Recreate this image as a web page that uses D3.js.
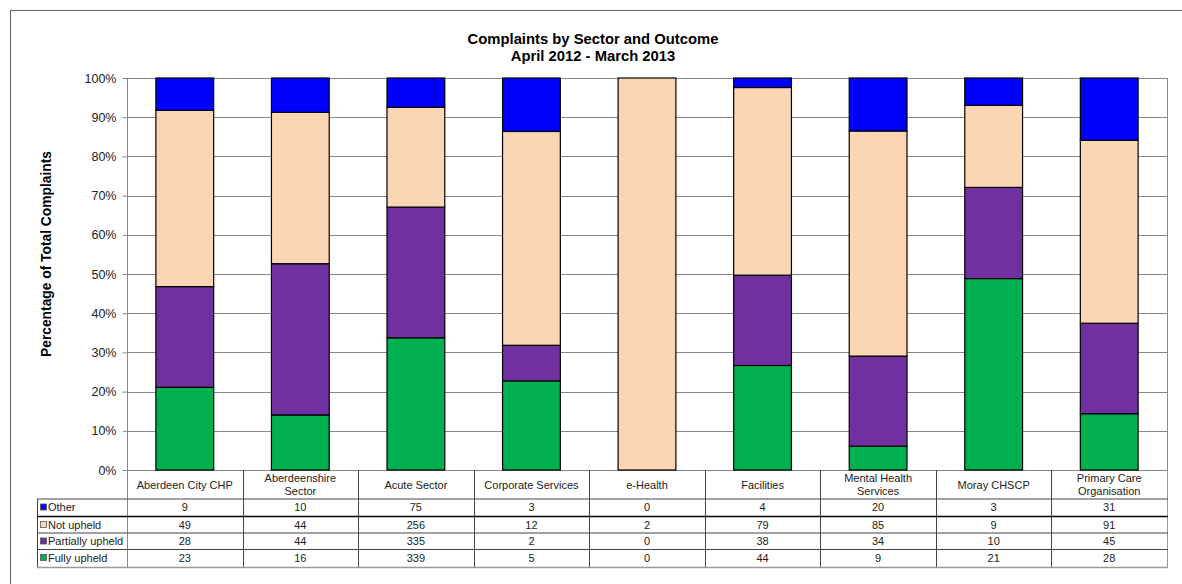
<!DOCTYPE html>
<html><head><meta charset="utf-8">
<script src="https://cdn.jsdelivr.net/npm/d3@7"></script>
<style>body{margin:0;background:#fff}svg{display:block;font-family:"Liberation Sans",Arial,sans-serif}</style>
</head><body><svg id="c" width="1182" height="584"></svg>
<script>
const categories = ["Aberdeen City CHP","Aberdeenshire Sector","Acute Sector","Corporate Services","e-Health","Facilities","Mental Health Services","Moray CHSCP","Primary Care Organisation"];
const categoryLines = [["Aberdeen City CHP"],["Aberdeenshire","Sector"],["Acute Sector"],["Corporate Services"],["e-Health"],["Facilities"],["Mental Health","Services"],["Moray CHSCP"],["Primary Care","Organisation"]];
const other = [9,10,75,3,0,4,20,3,31];
const notUpheld = [49,44,256,12,2,79,85,9,91];
const partiallyUpheld = [28,44,335,2,0,38,34,10,45];
const fullyUpheld = [23,16,339,5,0,44,9,21,28];
const seriesNames = ["Fully upheld","Partially upheld","Not upheld","Other"];
const seriesColors = ["#00B050","#7030A0","#FCD5B5","#0000FF"];
const yTicks = [0,0.1,0.2,0.3,0.4,0.5,0.6,0.7,0.8,0.9,1];

const seriesValues = [fullyUpheld, partiallyUpheld, notUpheld, other];
const rows = categories.map((c,i)=>{const o={cat:c}; seriesNames.forEach((s,j)=>o[s]=seriesValues[j][i]); return o;});
const stack = d3.stack().keys(seriesNames).offset(d3.stackOffsetExpand)(rows);

const svg = d3.select("#c");
const L=127, R=1167, T=78, B=470;
const x = d3.scaleBand().domain(categories).range([L,R]).paddingInner(0.5).paddingOuter(0.25);
const y = d3.scaleLinear().domain([0,1]).range([B,T]);

// outer frame
svg.append("rect").attr("x",10.5).attr("y",10.5).attr("width",1200).attr("height",600).attr("fill","none").attr("stroke","#666").attr("stroke-width",1);

// title
const title = svg.append("text").attr("text-anchor","middle").attr("font-weight","bold").attr("font-size","14.8px").attr("fill","#000");
title.append("tspan").attr("x",593).attr("y",44).text("Complaints by Sector and Outcome");
title.append("tspan").attr("x",593).attr("y",61).text("April 2012 - March 2013");

// grid
svg.append("g").selectAll("line").data(yTicks).join("line")
  .attr("x1",L).attr("x2",R).attr("y1",d=>Math.round(y(d))+0.5).attr("y2",d=>Math.round(y(d))+0.5)
  .attr("stroke","#888").attr("stroke-width",1);
svg.append("line").attr("x1",R+0.5).attr("x2",R+0.5).attr("y1",T).attr("y2",B).attr("stroke","#888");

// bars
svg.append("g").selectAll("g").data(stack).join("g").attr("fill",(d,i)=>seriesColors[i])
  .selectAll("rect").data(d=>d).join("rect")
  .attr("x",d=>x(d.data.cat)).attr("width",x.bandwidth())
  .attr("y",d=>y(d[1])).attr("height",d=>Math.max(0,y(d[0])-y(d[1])))
  .attr("stroke",d=>(d[1]-d[0])>0?"#000":"none").attr("stroke-width",1.2);

// y axis
const ya = svg.append("g").attr("transform",`translate(${L+0.5},0)`)
  .call(d3.axisLeft(y).tickValues(yTicks).tickFormat(d3.format(".0%")).tickSize(5).tickPadding(6));
ya.select(".domain").attr("stroke","#888").attr("d",`M-0,${T}V${B+97}`);
ya.selectAll(".tick line").attr("stroke","#888");
ya.selectAll(".tick text").attr("font-size","12.5px").attr("fill","#222").attr("font-family","Liberation Sans, Arial, sans-serif");

svg.append("text").attr("transform","translate(51,254) rotate(-90)").attr("text-anchor","middle")
  .attr("font-weight","bold").attr("font-size","13.8px").attr("fill","#000").text("Percentage of Total Complaints");

// data table
const rowTops = [499,516.5,533,549.5];
const rowH = 16.7;
const tableBottom = 567;
const tg = svg.append("g");
const step = x.step();
categories.forEach((c,i)=>{
  const xl = Math.round(L + i*step)+0.5;
  if(i>0) tg.append("line").attr("x1",xl).attr("x2",xl).attr("y1",B).attr("y2",tableBottom).attr("stroke","#444");
});
tg.append("line").attr("x1",R+0.5).attr("x2",R+0.5).attr("y1",B).attr("y2",tableBottom).attr("stroke","#999");
tg.append("line").attr("x1",37.5).attr("x2",37.5).attr("y1",499).attr("y2",tableBottom).attr("stroke","#444");
[499,516.5,533,549.5].forEach((yy,i)=>{
  tg.append("line").attr("x1",37).attr("x2",R+1).attr("y1",yy).attr("y2",yy)
    .attr("stroke",i===1?"#000":"#444").attr("stroke-width",i===1?1.6:1);
});
tg.append("line").attr("x1",37).attr("x2",R+1).attr("y1",tableBottom+0.5).attr("y2",tableBottom+0.5).attr("stroke","#999").attr("stroke-width",1.5);

categoryLines.forEach((lines,i)=>{
  const cx = x(categories[i]) + x.bandwidth()/2;
  const t = tg.append("text").attr("text-anchor","middle").attr("font-size","11px").attr("fill","#222");
  if(lines.length===1){
    t.append("tspan").attr("x",cx).attr("y",489).text(lines[0]);
  } else {
    t.append("tspan").attr("x",cx).attr("y",482).text(lines[0]);
    t.append("tspan").attr("x",cx).attr("y",495).text(lines[1]);
  }
});

const tableOrder = [3,2,1,0];
tableOrder.forEach((si,r)=>{
  const top = rowTops[r];
  const mid = top + rowH/2 + 4;
  tg.append("rect").attr("x",40.5).attr("y",top+5).attr("width",6).attr("height",6)
    .attr("fill",seriesColors[si]).attr("stroke","#555").attr("stroke-width",0.8);
  tg.append("text").attr("x",48).attr("y",mid).attr("font-size","11px").attr("fill","#222").text(seriesNames[si]);
  seriesValues[si].forEach((v,i)=>{
    tg.append("text").attr("x",x(categories[i])+x.bandwidth()/2).attr("y",mid)
      .attr("text-anchor","middle").attr("font-size","11px").attr("fill","#222").text(v);
  });
});
</script></body></html>
